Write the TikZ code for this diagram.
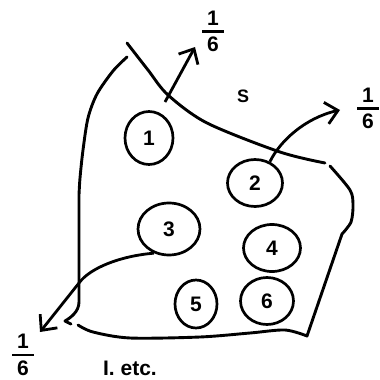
\documentclass[tikz,border=0pt]{standalone}
\usepackage{amsmath}
\usepackage{fontspec}
\setmainfont{Liberation Sans}
\usetikzlibrary{arrows.meta,shapes.geometric}
\newcommand{\sixth}{$\genfrac{}{}{2.5pt}{1}{\hbox{\makebox[22pt]{1}\rule[-2.5pt]{0pt}{0pt}}}{\hbox{\rule{0pt}{16.5pt}6}}$}

\begin{document}
\begin{tikzpicture}[x=1pt, y=-1pt,
    bound/.style={line width=2.9pt, line cap=round, line join=round},
    cell/.style={ellipse, draw, line width=2.7pt, inner sep=0pt, font=\fontsize{21}{25}\selectfont\bfseries},
    flux/.style={line width=2.8pt, -{Straight Barb[length=12pt,width=22pt]}},
    frac/.style={inner sep=0pt, font=\fontsize{21}{25}\selectfont\bfseries},
    lab/.style={inner sep=0pt, font=\fontsize{21}{25}\selectfont\bfseries}
  ]
  \useasboundingbox (0,0) rectangle (380,380);

  % outline of the region
  \draw[bound] plot[smooth] coordinates {(127,43) (148,70) (168,95) (207,123) (280,152) (325,163)};
  \draw[bound] plot[smooth] coordinates {(127,57) (113,71) (97,94) (88,118) (83,150) (80,178) (79,195)}
    -- (79,302) .. controls (79,312) and (70,318) .. (65,321) -- (71,324);
  \draw[bound] plot[smooth] coordinates {(78,325) (93,332) (130,338) (200,337) (250,333) (285,330) (307,336)}
    -- plot[smooth] coordinates {(342,234) (351,222) (353,205) (350,190) (330,166)};

  \node[lab, font=\fontsize{18}{22}\selectfont\bfseries] (s) at (243,96) {S};

  \node[cell, minimum width=48pt, minimum height=53pt] (c1) at (149,138) {1};
  \node[cell, minimum width=55pt, minimum height=47pt] (c2) at (255,183) {2};
  \node[cell, minimum width=62pt, minimum height=52pt] (c3) at (169,229) {3};
  \node[cell, minimum width=57pt, minimum height=47pt] (c4) at (272,248) {4};
  \node[cell, minimum width=42pt, minimum height=48pt] (c5) at (196,304) {5};
  \node[cell, minimum width=53pt, minimum height=47pt] (c6) at (267,301) {6};

  \node[frac] (f1) at (213,31.5) {\sixth};
  \node[frac] (f2) at (368,108.5) {\sixth};
  \node[frac] (f3) at (23,355) {\sixth};

  \coordinate (a1s) at (165,102);
  \coordinate (a1e) at (195,47);
  \coordinate (a2e) at (340,110);
  \coordinate (a3m) at (79,283);
  \coordinate (a3e) at (40,332);

  \draw[flux] (a1s) -- (a1e);
  \draw[flux] (c2.55) .. controls (280,141) and (305,118) .. (a2e);
  \draw[flux] (c3.238) .. controls (120,256) and (90,268) .. (a3m) -- (a3e);

  \node[lab] (etc) at (130,368) {I. etc.};
\end{tikzpicture}
\end{document}
